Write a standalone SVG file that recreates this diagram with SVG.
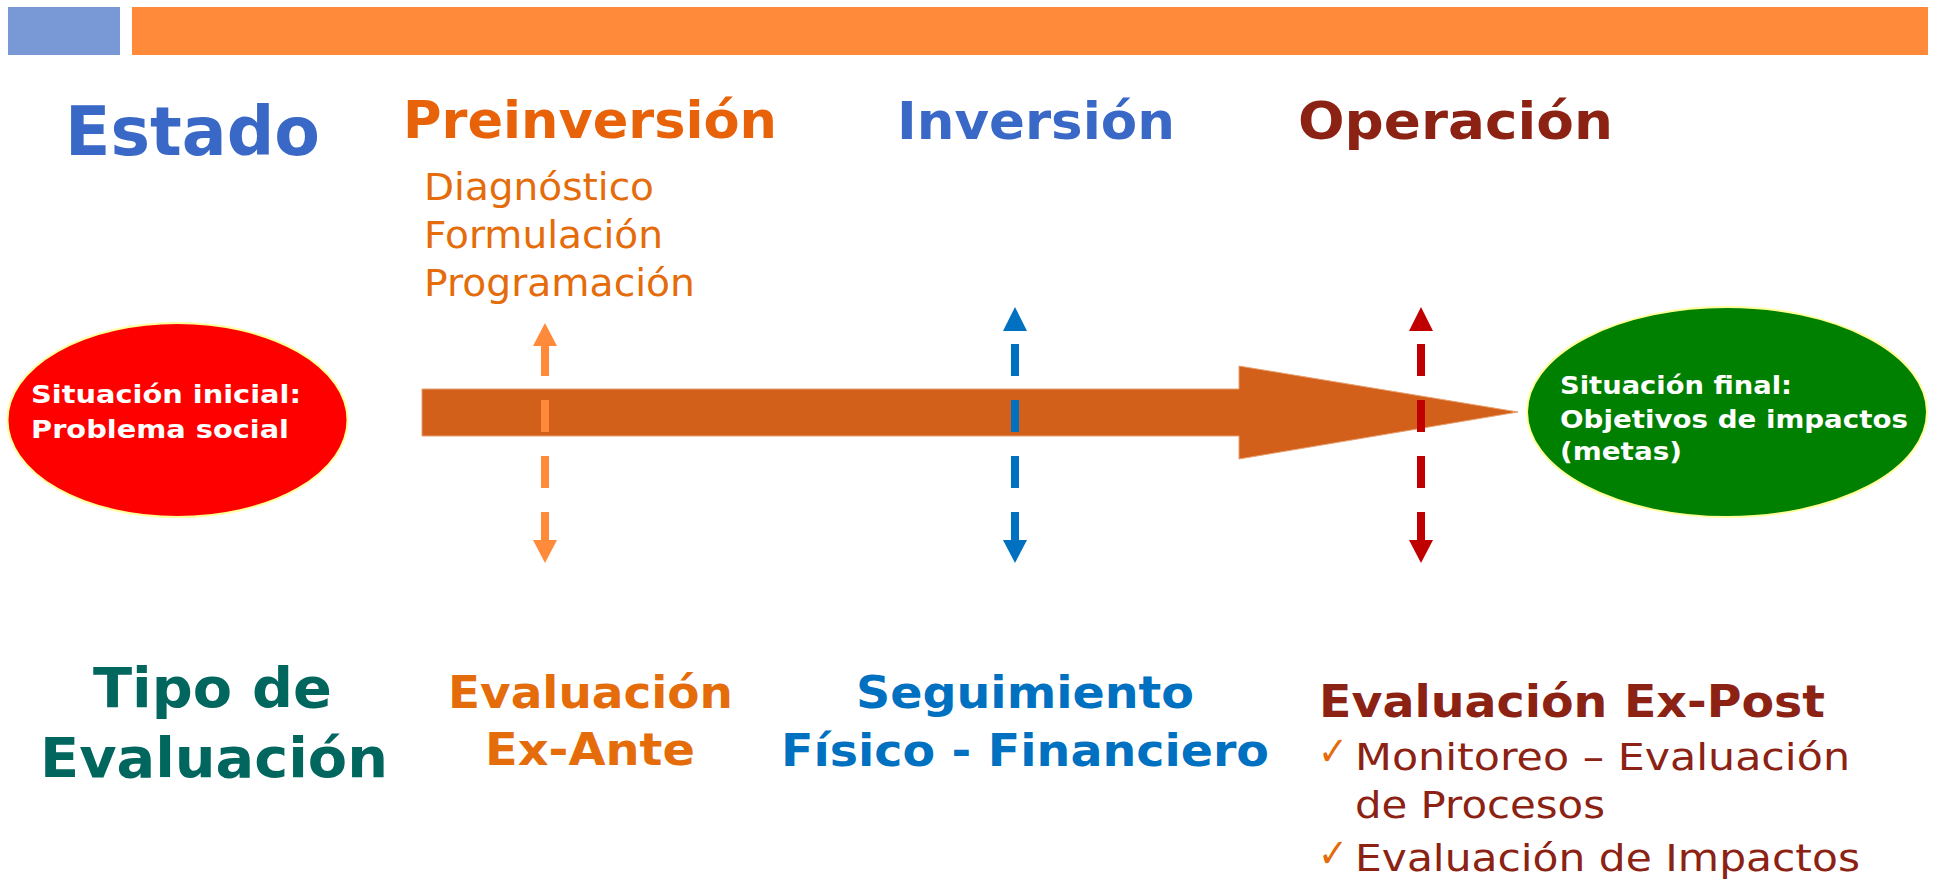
<svg xmlns="http://www.w3.org/2000/svg" width="1937" height="881" viewBox="0 0 1937 881">
<style>
text{font-family:"DejaVu Sans","Verdana",sans-serif}
.b{font-weight:bold}
.blue{fill:#3A68C6}
.org{fill:#E8620A}
.org2{fill:#E46C0A}
.dred{fill:#8B2213}
.teal{fill:#00665E}
.sblue{fill:#0070C0}
.wt{fill:#FFFFFF;font-weight:bold;font-size:25px}
.dash{stroke-width:8;stroke-dasharray:32 24;fill:none}
.chk{fill:#E46C0A;font-size:40px}
</style>
<rect x="0" y="0" width="1937" height="881" fill="#FFFFFF"/>
<g id="header">
<rect x="8" y="7" width="112" height="48" fill="#7899D6"/>
<rect x="132" y="7" width="1796" height="48" fill="#FF8A3A"/>
</g>
<g id="estado"><text x="65" y="155" class="b blue" font-size="67" textLength="255" lengthAdjust="spacingAndGlyphs">Estado</text></g>
<g id="preinversion">
<text x="403" y="138" class="b org" font-size="51" textLength="374" lengthAdjust="spacingAndGlyphs">Preinversión</text>
<text x="424" y="200" class="org2" font-size="37" textLength="230" lengthAdjust="spacingAndGlyphs">Diagnóstico</text>
<text x="424" y="248" class="org2" font-size="37" textLength="239" lengthAdjust="spacingAndGlyphs">Formulación</text>
<text x="424" y="296" class="org2" font-size="37" textLength="271" lengthAdjust="spacingAndGlyphs">Programación</text>
</g>
<g id="inversion"><text x="897" y="139" class="b blue" font-size="52" textLength="278" lengthAdjust="spacingAndGlyphs">Inversión</text></g>
<g id="operacion"><text x="1298" y="139" class="b dred" font-size="52" textLength="315" lengthAdjust="spacingAndGlyphs">Operación</text></g>
<g id="connectors">
<polygon points="422,389 1239,389 1239,366 1518,412 1239,459 1239,436 422,436" fill="#D2601A" stroke="#E8A070" stroke-width="1"/>
<line x1="545" y1="344" x2="545" y2="544" class="dash" stroke="#FF8A3A"/>
<polygon points="545,323 557,346 533,346" fill="#FF8A3A"/>
<polygon points="545,563 557,540 533,540" fill="#FF8A3A"/>
<line x1="1015" y1="344" x2="1015" y2="544" class="dash" stroke="#0070C0"/>
<polygon points="1015,307 1027,331 1003,331" fill="#0070C0"/>
<polygon points="1015,563 1027,540 1003,540" fill="#0070C0"/>
<line x1="1421" y1="344" x2="1421" y2="544" class="dash" stroke="#C00000"/>
<polygon points="1421,307 1433,331 1409,331" fill="#C00000"/>
<polygon points="1421,563 1433,540 1409,540" fill="#C00000"/>
</g>
<g id="situacion-inicial">
<ellipse cx="177.5" cy="420" rx="170" ry="97" fill="#FF0000" stroke="#FFFF99" stroke-width="2"/>
<text x="31" y="403" class="wt" textLength="270" lengthAdjust="spacingAndGlyphs">Situación inicial:</text>
<text x="31" y="438" class="wt" textLength="258" lengthAdjust="spacingAndGlyphs">Problema social</text>
</g>
<g id="situacion-final">
<ellipse cx="1727" cy="412" rx="200" ry="105" fill="#008000" stroke="#FFFF99" stroke-width="2"/>
<text x="1560" y="394" class="wt" textLength="232" lengthAdjust="spacingAndGlyphs">Situación final:</text>
<text x="1560" y="428" class="wt" textLength="348" lengthAdjust="spacingAndGlyphs">Objetivos de impactos</text>
<text x="1560" y="460" class="wt" textLength="122" lengthAdjust="spacingAndGlyphs">(metas)</text>
</g>
<g id="tipo-evaluacion">
<text x="93" y="707" class="b teal" font-size="55" textLength="239" lengthAdjust="spacingAndGlyphs">Tipo de</text>
<text x="40" y="777" class="b teal" font-size="55" textLength="348" lengthAdjust="spacingAndGlyphs">Evaluación</text>
</g>
<g id="ex-ante">
<text x="448" y="708" class="b org2" font-size="45" textLength="285" lengthAdjust="spacingAndGlyphs">Evaluación</text>
<text x="485" y="765" class="b org2" font-size="45" textLength="210" lengthAdjust="spacingAndGlyphs">Ex-Ante</text>
</g>
<g id="seguimiento">
<text x="856" y="708" class="b sblue" font-size="45" textLength="338" lengthAdjust="spacingAndGlyphs">Seguimiento</text>
<text x="781" y="766" class="b sblue" font-size="45" textLength="488" lengthAdjust="spacingAndGlyphs">Físico - Financiero</text>
</g>
<g id="ex-post">
<text x="1319" y="717" class="b dred" font-size="45" textLength="506" lengthAdjust="spacingAndGlyphs">Evaluación Ex-Post</text>
<text x="1318" y="765" class="chk" textLength="30" lengthAdjust="spacingAndGlyphs">✓</text>
<text x="1355" y="770" class="dred" font-size="38" textLength="495" lengthAdjust="spacingAndGlyphs">Monitoreo – Evaluación</text>
<text x="1355" y="818" class="dred" font-size="38" textLength="250" lengthAdjust="spacingAndGlyphs">de Procesos</text>
<text x="1318" y="867" class="chk" textLength="30" lengthAdjust="spacingAndGlyphs">✓</text>
<text x="1355" y="871" class="dred" font-size="38" textLength="505" lengthAdjust="spacingAndGlyphs">Evaluación de Impactos</text>
</g>
</svg>
